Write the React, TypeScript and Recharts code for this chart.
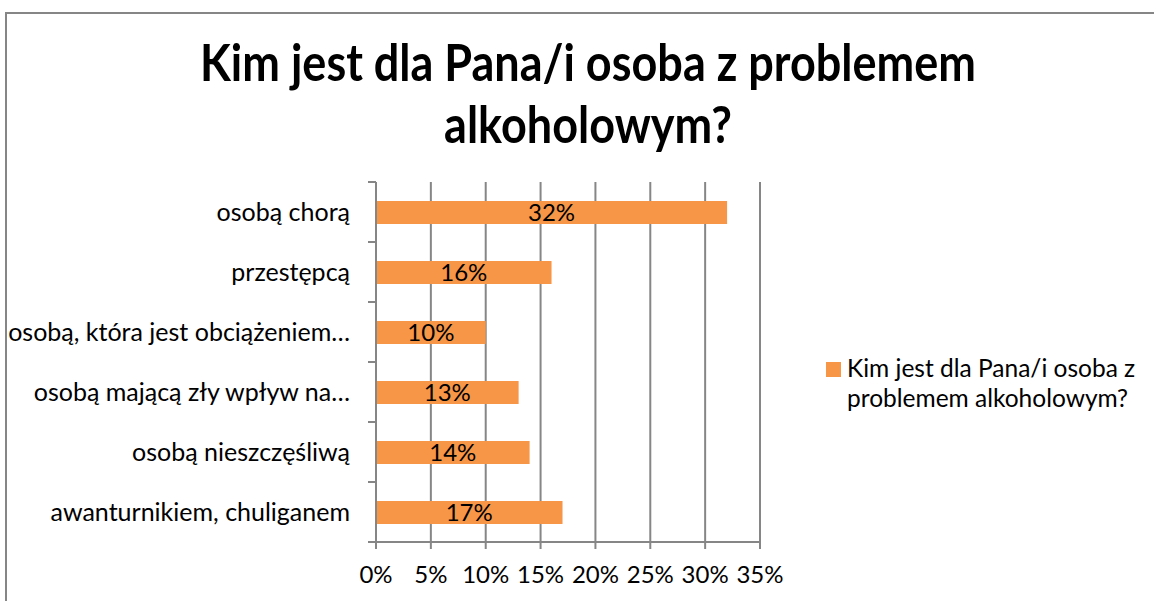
import React from 'react';
import { BarChart, Bar, XAxis, YAxis, CartesianGrid, Legend, LabelList } from 'recharts';

const titleLines = ['Kim jest dla Pana/i osoba z problemem', 'alkoholowym?'];
const seriesName = 'Kim jest dla Pana/i osoba z problemem alkoholowym?';
const legendLines = ['Kim jest dla Pana/i osoba z', 'problemem alkoholowym?'];
const categories = [
  'osobą chorą',
  'przestępcą',
  'osobą, która jest obciążeniem…',
  'osobą mającą zły wpływ na…',
  'osobą nieszczęśliwą',
  'awanturnikiem, chuliganem',
];
const values = [0.32, 0.16, 0.10, 0.13, 0.14, 0.17];
const xTicks = [0, 0.05, 0.1, 0.15, 0.2, 0.25, 0.3, 0.35];
const boundaryTicks = [0, 1, 2, 3, 4, 5, 6];

const data = categories.map((name, i) => ({ name, value: values[i] }));

const FONT = 'Lato, "Open Sans", sans-serif';
const GRID = '#868686';
const ORANGE = '#F79646';
const pct = (v: number) => `${Math.round(v * 100)}%`;

const LegendContent = () => (
  <div style={{ display: 'flex', alignItems: 'flex-start', fontFamily: FONT, fontSize: 24.5, color: '#000', lineHeight: '30px' }}>
    <div style={{ width: 15, height: 15, background: ORANGE, marginTop: 9, marginRight: 6, flex: 'none' }} />
    <div>
      {legendLines.map((l) => (
        <div key={l} style={{ whiteSpace: 'nowrap' }}>{l}</div>
      ))}
    </div>
  </div>
);

export default function App() {
  return (
    <div style={{ position: 'absolute', left: 0, top: 0, width: 1154, height: 601, overflow: 'hidden', background: '#fff' }}>
      <div style={{ position: 'absolute', left: 5, top: 12, width: 1200, height: 700, border: `2px solid ${GRID}`, boxSizing: 'border-box' }} />
      <div style={{ position: 'absolute', left: 88, top: 30, width: 1000, textAlign: 'center', fontFamily: FONT, fontWeight: 700, fontSize: 45, lineHeight: '54px', color: '#000', transform: 'scaleY(1.15)', transformOrigin: 'top center' }}>
        {titleLines.map((l) => (
          <div key={l}>{l}</div>
        ))}
      </div>
      <div style={{ position: 'absolute', left: 0, top: 0 }}>
        <BarChart
          width={1154}
          height={601}
          data={data}
          layout="vertical"
          margin={{ top: 182, right: 94, bottom: 19, left: 0 }}
          barSize={23}
        >
          <CartesianGrid yAxisId="cat" horizontal={false} vertical stroke={GRID} strokeWidth={2} />
          <XAxis
            type="number"
            domain={[0, 0.35]}
            ticks={xTicks}
            tickFormatter={pct}
            height={40}
            interval={0}
            axisLine={{ stroke: GRID, strokeWidth: 2 }}
            tickLine={{ stroke: GRID, strokeWidth: 2 }}
            tickSize={7}
            tickMargin={17}
            tick={{ fill: '#000', fontSize: 24, fontFamily: FONT }}
          />
          <YAxis
            yAxisId="bnd"
            type="number"
            dataKey="value"
            domain={[0, 6]}
            ticks={boundaryTicks}
            interval={0}
            width={1}
            tickFormatter={() => ''}
            tickSize={8}
            axisLine={{ stroke: GRID, strokeWidth: 2 }}
            tickLine={{ stroke: GRID, strokeWidth: 2 }}
            allowDataOverflow
          />
          <YAxis
            yAxisId="cat"
            type="category"
            dataKey="name"
            width={375}
            interval={0}
            axisLine={false}
            tickLine={false}
            tickSize={0}
            tickMargin={25}
            tick={{ fill: '#000', fontSize: 25, fontFamily: FONT }}
          />
          <Legend
            layout="vertical"
            align="right"
            verticalAlign="middle"
            width={300}
            wrapperStyle={{ left: 826, top: 353, width: 300 }}
            content={LegendContent}
          />
          <Bar yAxisId="cat" dataKey="value" name={seriesName} fill={ORANGE} isAnimationActive={false}>
            <LabelList dataKey="value" position="center" formatter={(v: number) => pct(v)} fill="#000" fontSize={24} fontFamily={FONT} />
          </Bar>
        </BarChart>
      </div>
    </div>
  );
}
